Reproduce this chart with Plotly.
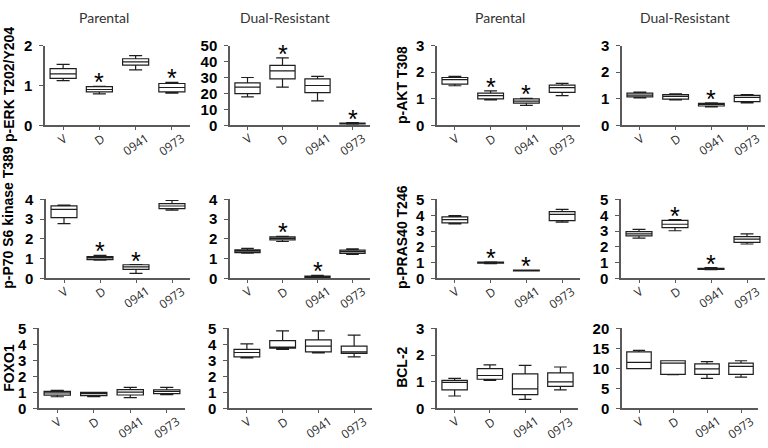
import plotly.graph_objects as go

categories = ["V", "D", "0941", "0973"]

# each entry: [min, q1, median, q3, max] for V, D, 0941, 0973
erk_parental = [[1.12, 1.18, 1.29, 1.42, 1.53], [0.79, 0.84, 0.90, 0.97, 0.98],
                [1.39, 1.51, 1.59, 1.67, 1.75], [0.81, 0.84, 0.95, 1.05, 1.08]]
erk_dual = [[17.9, 19.9, 24.0, 26.6, 30.0], [24.0, 29.1, 34.1, 37.6, 42.3],
            [15.4, 20.5, 25.0, 29.1, 30.7], [0.8, 1.0, 1.2, 1.5, 1.8]]
akt_parental = [[1.49, 1.55, 1.72, 1.80, 1.84], [0.96, 1.00, 1.12, 1.21, 1.30],
                [0.75, 0.84, 0.91, 1.00, 1.02], [1.12, 1.24, 1.42, 1.51, 1.58]]
akt_dual = [[1.03, 1.07, 1.14, 1.21, 1.25], [0.96, 0.99, 1.09, 1.16, 1.19],
            [0.70, 0.73, 0.79, 0.83, 0.85], [0.85, 0.89, 1.05, 1.13, 1.16]]
p70_parental = [[2.78, 3.08, 3.50, 3.68, 3.72], [0.93, 0.95, 1.04, 1.10, 1.17],
                [0.25, 0.46, 0.58, 0.69, 0.70], [3.46, 3.54, 3.67, 3.79, 3.95]]
p70_dual = [[1.28, 1.31, 1.38, 1.45, 1.52], [1.87, 1.95, 2.03, 2.10, 2.13],
            [0.03, 0.04, 0.08, 0.12, 0.15], [1.22, 1.27, 1.36, 1.43, 1.50]]
pras40_parental = [[3.45, 3.52, 3.72, 3.90, 3.98], [0.94, 0.96, 1.00, 1.03, 1.05],
                   [0.47, 0.48, 0.50, 0.52, 0.53], [3.57, 3.66, 4.06, 4.23, 4.37]]
pras40_dual = [[2.55, 2.69, 2.82, 2.96, 3.10], [3.02, 3.22, 3.43, 3.67, 3.73],
               [0.55, 0.57, 0.60, 0.63, 0.68], [2.18, 2.28, 2.49, 2.65, 2.82]]
foxo1_parental = [[0.72, 0.82, 0.96, 1.06, 1.12], [0.72, 0.79, 0.91, 0.99, 1.00],
                  [0.67, 0.83, 1.01, 1.17, 1.31], [0.85, 0.91, 1.05, 1.15, 1.31]]
foxo1_dual = [[3.16, 3.22, 3.49, 3.69, 4.03], [3.69, 3.77, 3.83, 4.23, 4.84],
              [3.47, 3.53, 3.89, 4.28, 4.84], [3.22, 3.43, 3.53, 3.89, 4.58]]
bcl2_parental = [[0.46, 0.69, 0.97, 1.05, 1.12], [1.05, 1.09, 1.23, 1.49, 1.63],
                 [0.33, 0.51, 0.73, 1.29, 1.61], [0.69, 0.82, 0.99, 1.33, 1.55]]
bcl2_dual = [[9.9, 9.9, 11.5, 14.1, 14.5], [8.4, 8.5, 11.3, 11.9, 11.9],
             [7.5, 8.5, 9.85, 11.1, 11.7], [7.8, 8.5, 10.5, 11.3, 11.9]]

# significance stars (categories marked with *)
erk_parental_sig = ["D", "0973"]
erk_dual_sig = ["D", "0973"]
akt_parental_sig = ["D", "0941"]
akt_dual_sig = ["0941"]
p70_parental_sig = ["D", "0941"]
p70_dual_sig = ["D", "0941"]
pras40_parental_sig = ["D", "0941"]
pras40_dual_sig = ["D", "0941"]
foxo1_parental_sig = []
foxo1_dual_sig = []
bcl2_parental_sig = []
bcl2_dual_sig = []

column_titles = ["Parental", "Dual-Resistant", "Parental", "Dual-Resistant"]
y_titles = ["p-ERK T202/Y204", "p-P70 S6 kinase T389", "FOXO1",
            "p-AKT T308", "p-PRAS40 T246", "BCL-2"]
y_max = [2, 50, 3, 3, 4, 4, 5, 5, 5, 5, 3, 20]
y_dtick = [1, 10, 1, 1, 1, 1, 1, 1, 1, 1, 1, 5]

panels = [
    (erk_parental, erk_parental_sig), (erk_dual, erk_dual_sig),
    (akt_parental, akt_parental_sig), (akt_dual, akt_dual_sig),
    (p70_parental, p70_parental_sig), (p70_dual, p70_dual_sig),
    (pras40_parental, pras40_parental_sig), (pras40_dual, pras40_dual_sig),
    (foxo1_parental, foxo1_parental_sig), (foxo1_dual, foxo1_dual_sig),
    (bcl2_parental, bcl2_parental_sig), (bcl2_dual, bcl2_dual_sig),
]

W, H = 768, 448
# pixel layout (left, right) x and (top, bottom) y of each panel
x_px = [(45, 190), (230, 370), (437, 580), (622, 765),
        (46, 190), (230, 370), (437, 580), (621, 765),
        (39, 185), (229, 372), (437, 578), (622, 758)]
y_px = [(38, 121)] * 4 + [(198, 280)] * 4 + [(332, 415)] * 4

LINE = "#5a5a5a"
BOX = "#1e1e1e"

fig = go.Figure()
layout = dict(width=W, height=H, margin=dict(l=0, r=0, t=0, b=0),
              paper_bgcolor="white", plot_bgcolor="white", showlegend=False)
annotations = []

for i, (stats, sig) in enumerate(panels):
    n = "" if i == 0 else str(i + 1)
    xa, ya = "x" + n, "y" + n
    fig.add_trace(go.Box(
        x=categories,
        lowerfence=[s[0] for s in stats],
        q1=[s[1] for s in stats],
        median=[s[2] for s in stats],
        q3=[s[3] for s in stats],
        upperfence=[s[4] for s in stats],
        xaxis=xa, yaxis=ya,
        fillcolor="white", line=dict(color=BOX, width=1.2),
        width=0.72, whiskerwidth=0.5, boxpoints=False, hoverinfo="skip",
    ))
    (x0, x1), (yt, yb) = x_px[i], y_px[i]
    layout["xaxis" + n] = dict(
        domain=[x0 / W, x1 / W], anchor=ya, type="category",
        categoryorder="array", categoryarray=categories, range=[-0.5, 3.5],
        showline=True, linecolor=LINE, linewidth=1.5, ticks="outside",
        ticklen=3, tickcolor=LINE, showticklabels=False, showgrid=False,
        zeroline=False)
    layout["yaxis" + n] = dict(
        domain=[1 - yb / H, 1 - yt / H], anchor=xa, range=[0, y_max[i]],
        tick0=0, dtick=y_dtick[i], showline=True, linecolor=LINE, linewidth=1.5,
        ticks="outside", ticklen=4, tickcolor=LINE, showgrid=False,
        zeroline=False, ticklabelstandoff=4,
        tickfont=dict(family="Liberation Sans", size=15, color="black",
                      weight="bold"))
    for k, c in enumerate(categories):
        annotations.append(dict(
            xref=xa, yref="paper", x=k, y=1 - (yb + 3) / H, text=c,
            showarrow=False, textangle=-35, xanchor="center", yanchor="top",
            borderpad=0,
            font=dict(family="Open Sans", size=12, color="#2a2a2a")))
        if c in sig:
            annotations.append(dict(
                xref=xa, yref=ya, x=k, y=stats[k][4], text="*",
                showarrow=False, xanchor="center", yanchor="middle", yshift=4,
                font=dict(family="Liberation Sans", size=25, color="black")))

# column titles
title_x = [104, 285, 500, 685]
for t, xp in zip(column_titles, title_x):
    annotations.append(dict(xref="paper", yref="paper", x=xp / W, y=1 - 9 / H,
                            text=t, showarrow=False, xanchor="center",
                            yanchor="middle",
                            font=dict(family="Lato", size=14, color="#333333")))

# y-axis titles
ytitle_pos = [(9, 79), (8, 217), (9, 373), (402, 79), (402, 237), (402, 373)]
for t, (xp, yp) in zip(y_titles, ytitle_pos):
    annotations.append(dict(xref="paper", yref="paper", x=xp / W, y=1 - yp / H,
                            text=t, showarrow=False, textangle=-90,
                            xanchor="center", yanchor="middle",
                            font=dict(family="Liberation Sans", size=14,
                                      color="black", weight="bold")))

layout["annotations"] = annotations
fig.update_layout(**layout)
fig.write_html("out.html",
               config={"displayModeBar": False},
               post_script="document.body.style.margin='0';"
                           "document.body.style.overflow='hidden';")
